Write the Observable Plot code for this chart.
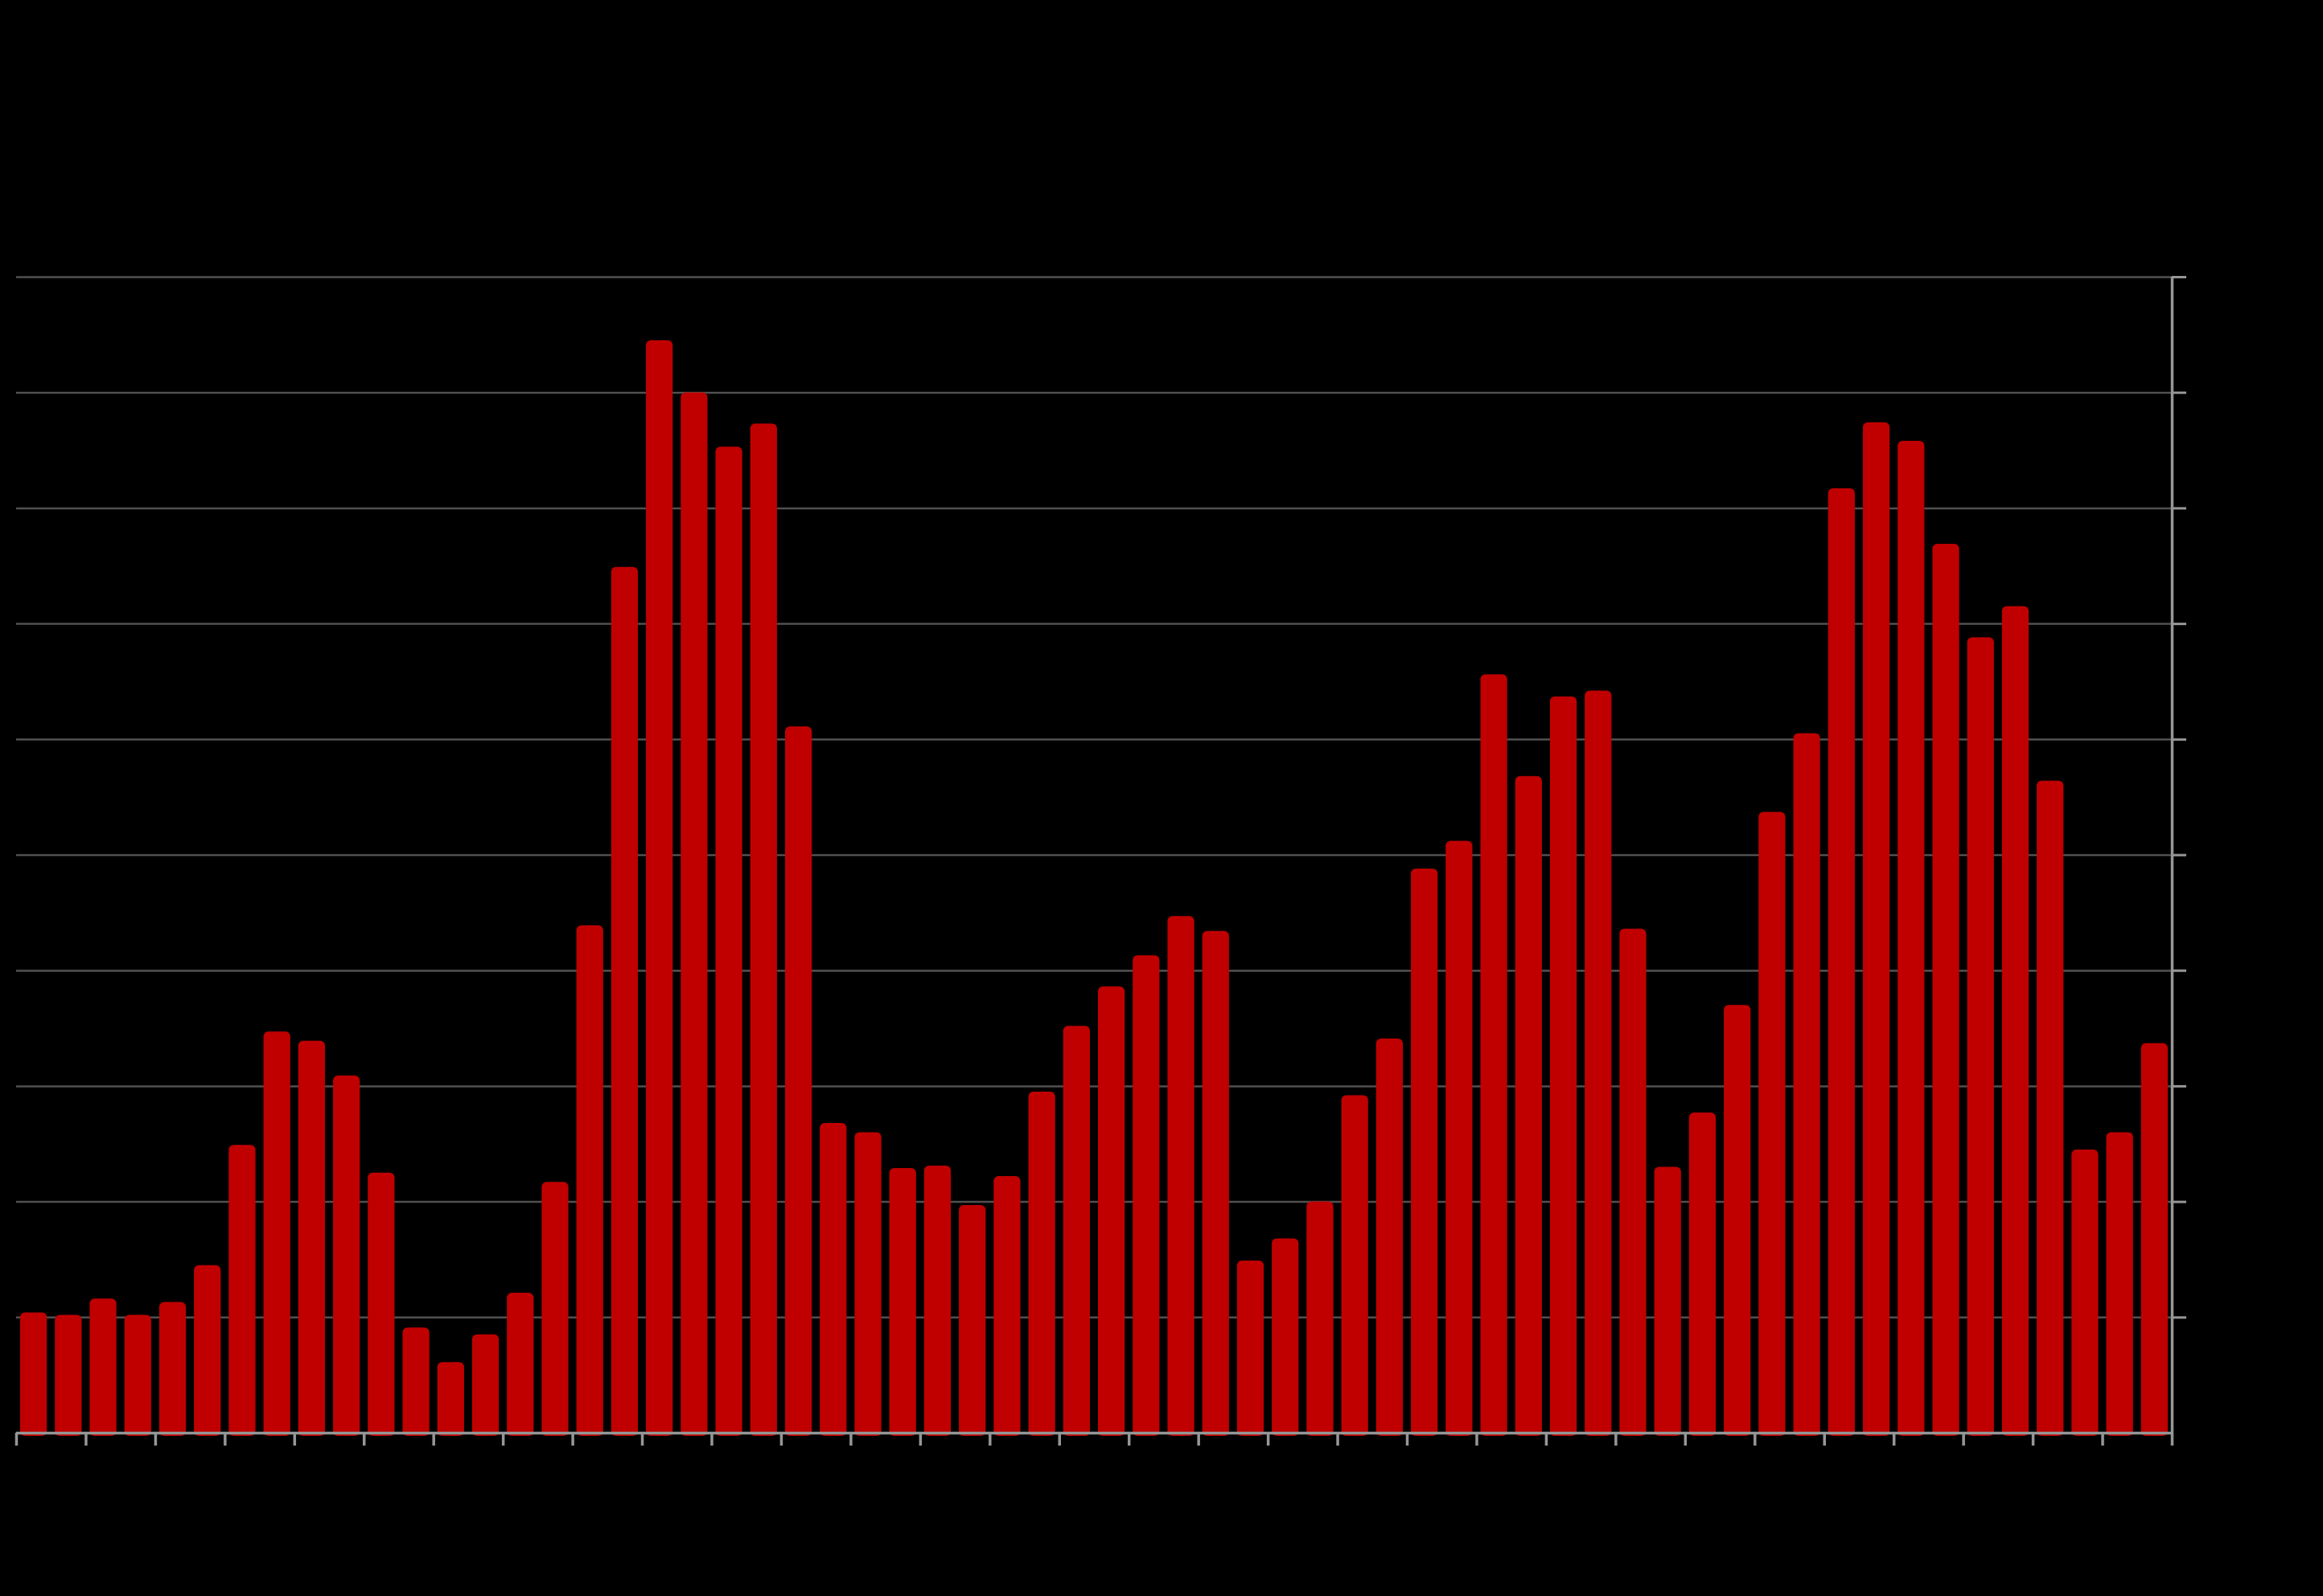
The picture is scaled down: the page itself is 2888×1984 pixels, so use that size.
<!DOCTYPE html>
<html>
<head>
<meta charset="utf-8">
<script src="https://cdn.jsdelivr.net/npm/d3@7"></script>
<script src="https://cdn.jsdelivr.net/npm/@observablehq/plot@0.6"></script>
<style>
html, body { margin: 0; padding: 0; background: #000; }
#chart svg { display: block; }
</style>
</head>
<body>
<div id="chart"></div>
<script>
// Bar values (in gridline units; labels are not visible in the reference)
const values = [
  1.04, 1.02, 1.16, 1.02, 1.13, 1.45, 2.49, 3.47, 3.39, 3.09,
  2.25, 0.91, 0.61, 0.85, 1.21, 2.17, 4.39, 7.49, 9.45, 9.00,
  8.53, 8.73, 6.11, 2.68, 2.60, 2.29, 2.31, 1.97, 2.22, 2.95,
  3.52, 3.86, 4.13, 4.47, 4.34, 1.49, 1.68, 2.00, 2.92, 3.41,
  4.88, 5.12, 6.56, 5.68, 6.37, 6.42, 4.36, 2.30, 2.77, 3.70,
  5.37, 6.05, 8.17, 8.74, 8.58, 7.69, 6.88, 7.15, 5.64, 2.45,
  2.60, 3.37
];
const yTicks = [1, 2, 3, 4, 5, 6, 7, 8, 9, 10];
const xTickEvery = 2;

const data = values.map((v, i) => ({i, v}));
const xTicks = d3.range(0, values.length + 1, xTickEvery);
const n = values.length;

const chart = Plot.plot({
  width: 2888,
  height: 1984,
  marginLeft: 20,
  marginRight: 188,
  marginTop: 344,
  marginBottom: 203,
  style: {background: "#000"},
  x: {domain: [0, n], axis: null},
  y: {domain: [0, 10], axis: null},
  marks: [
    Plot.ruleY(yTicks, {stroke: "#505050", strokeWidth: 2.5}),
    Plot.rectY(data, {
      x1: "i", x2: d => d.i + 1, y1: 0, y2: "v",
      fill: "#C00000",
      insetLeft: 5, insetRight: 5, insetBottom: -4,
      rx: 6
    }),
    Plot.ruleY([0], {stroke: "#969696", strokeWidth: 3.5}),
    Plot.ruleX(xTicks, {y1: 0, y2: 0, insetBottom: -16, stroke: "#969696", strokeWidth: 3.5}),
    Plot.ruleX([n], {stroke: "#969696", strokeWidth: 3.5}),
    Plot.ruleY(yTicks, {x1: n, x2: n, insetRight: -18, stroke: "#969696", strokeWidth: 3})
  ]
});
document.getElementById("chart").append(chart);
</script>
</body>
</html>
